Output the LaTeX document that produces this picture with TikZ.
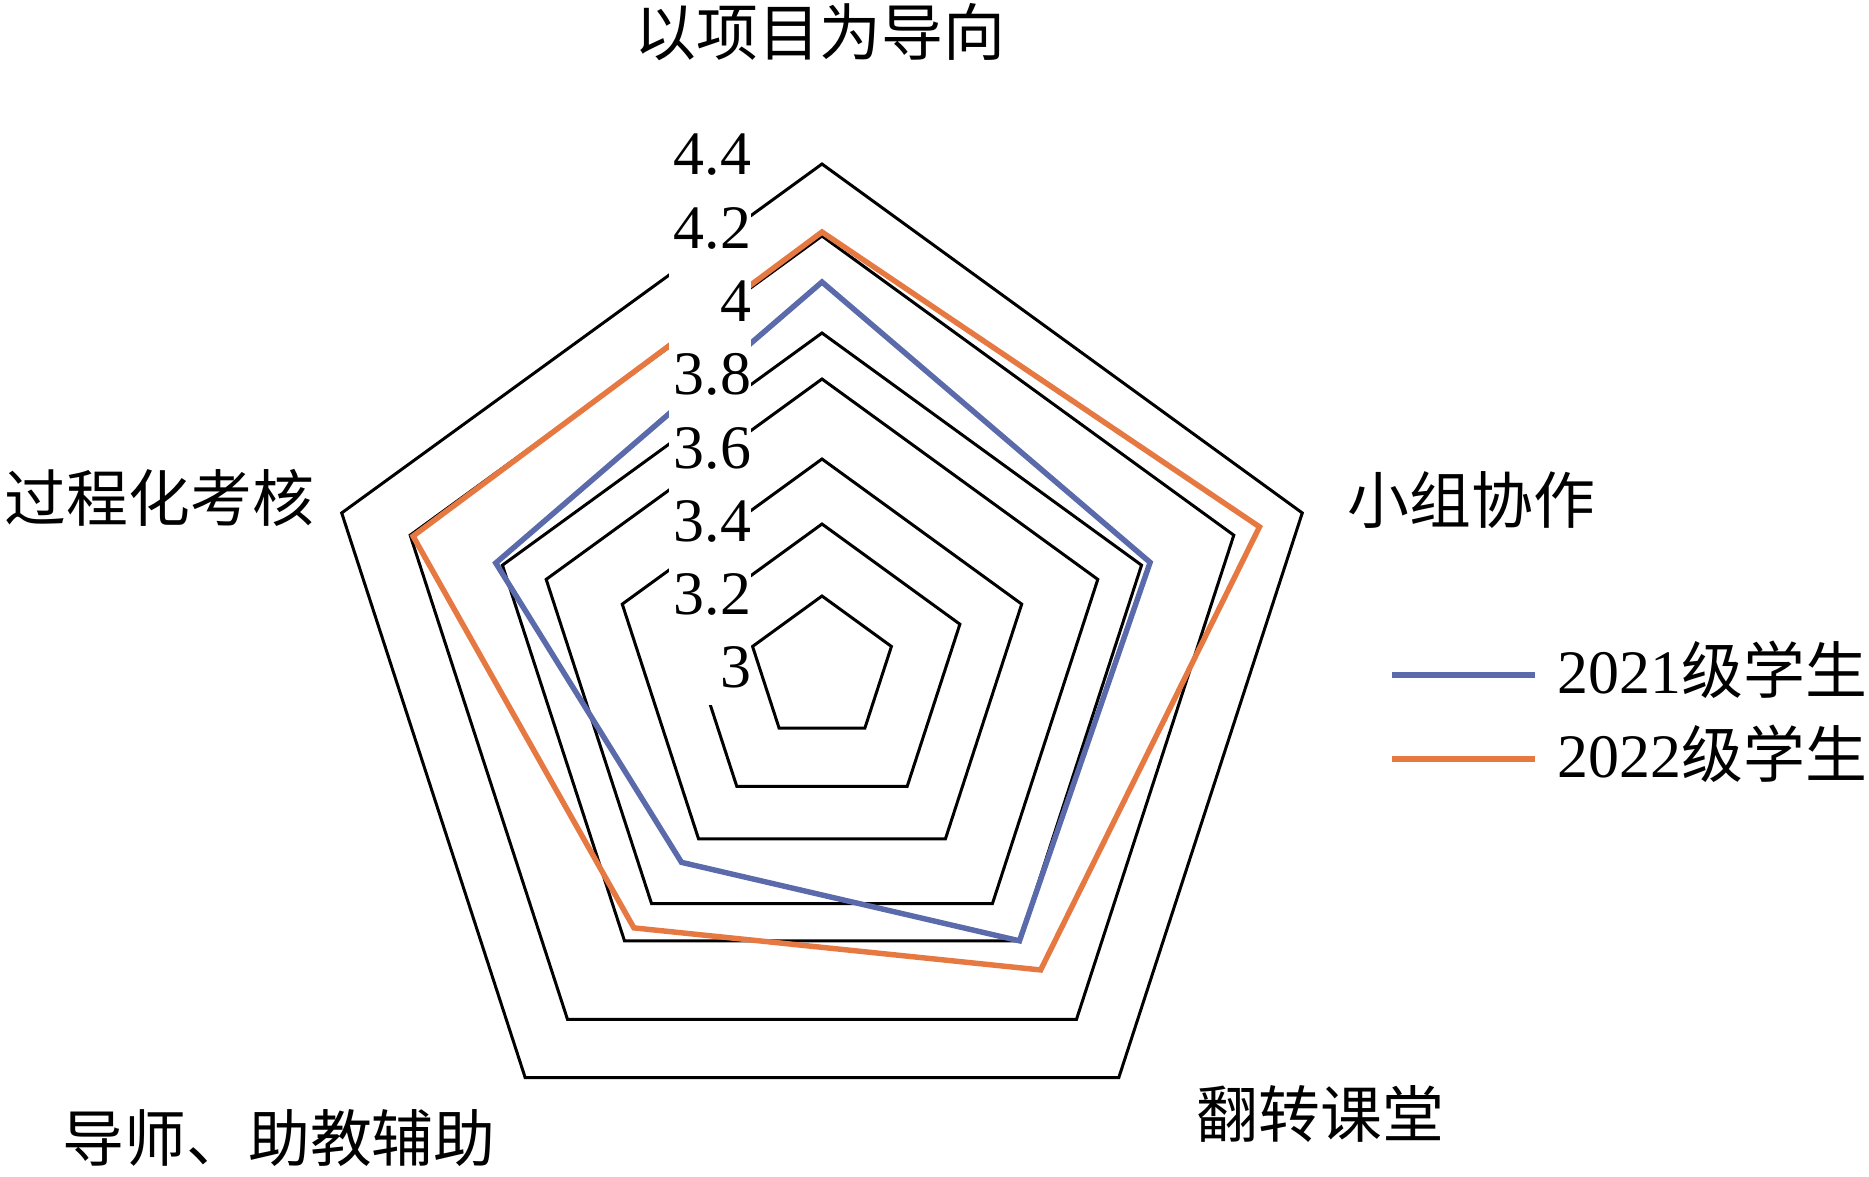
\documentclass[tikz,border=0pt]{standalone}
\usepackage{fontspec}
\setmainfont{Liberation Serif}
\newfontfamily\cjk{Noto Sans CJK SC}
\definecolor{blue21}{RGB}{90,106,170}
\definecolor{orange22}{RGB}{230,121,66}
\tikzset{
  ring/.style={draw=black, line width=0.85pt},
  yr21/.style={draw=blue21, line width=1.55pt},
  yr22/.style={draw=orange22, line width=1.55pt},
  vallabel/.style={fill=white, anchor=east, text width=0.82cm, align=right, minimum height=0.75cm, inner sep=0pt},
  axislabel/.style={anchor=west, inner sep=0pt, font=\cjk\fontsize{17.6}{20}\selectfont},
}
\begin{document}
\begin{tikzpicture}[every node/.append style={font=\fontsize{17.6}{20}\selectfont}]
\useasboundingbox (-8.22,-5.08) rectangle (10.47,6.69);
% grid pentagons
\draw[ring] (90:0.73) -- (18:0.73) -- (-54:0.73) -- (-126:0.73) -- (162:0.73) -- cycle;
\draw[ring] (90:1.45) -- (18:1.45) -- (-54:1.45) -- (-126:1.45) -- (162:1.45) -- cycle;
\draw[ring] (90:2.10) -- (18:2.10) -- (-54:2.10) -- (-126:2.10) -- (162:2.10) -- cycle;
\draw[ring] (90:2.90) -- (18:2.90) -- (-54:2.90) -- (-126:2.90) -- (162:2.90) -- cycle;
\draw[ring] (90:3.36) -- (18:3.36) -- (-54:3.36) -- (-126:3.36) -- (162:3.36) -- cycle;
\draw[ring] (90:4.33) -- (18:4.33) -- (-54:4.33) -- (-126:4.33) -- (162:4.33) -- cycle;
\draw[ring] (90:5.05) -- (18:5.05) -- (-54:5.05) -- (-126:5.05) -- (162:5.05) -- cycle;

% data
\draw[yr21] (90:3.87) -- (18:3.45) -- (-54:3.36) -- (-126:2.39) -- (162:3.43) -- cycle;
\draw[yr22] (90:4.37) -- (18:4.60) -- (-54:3.72) -- (-126:3.20) -- (162:4.30) -- cycle;

% value labels
\node[vallabel] (v30) at (-0.70,0.02) {3};
\node[vallabel] (v32) at (-0.70,0.75) {3.2};
\node[vallabel] (v34) at (-0.70,1.48) {3.4};
\node[vallabel] (v36) at (-0.70,2.21) {3.6};
\node[vallabel] (v38) at (-0.70,2.95) {3.8};
\node[vallabel] (v40) at (-0.70,3.68) {4};
\node[vallabel] (v42) at (-0.70,4.41) {4.2};
\node[vallabel] (v44) at (-0.70,5.14) {4.4};

% axis names
\node[font=\cjk\fontsize{17.6}{20}\selectfont, inner sep=0pt] (project) at (-0.02,6.37) {以项目为导向};
\node[axislabel] (group) at (5.25,1.69) {小组协作};
\node[axislabel] (flip) at (3.74,-4.45) {翻转课堂};
\node[axislabel] (tutor) at (-7.60,-4.69) {导师、助教辅助};
\node[axislabel] (process) at (-8.18,1.71) {过程化考核};

% legend
\coordinate (l21a) at (5.70,-0.06); \coordinate (l21b) at (7.13,-0.06);
\coordinate (l22a) at (5.70,-0.90); \coordinate (l22b) at (7.13,-0.90);
\draw[yr21] (l21a) -- (l21b);
\draw[yr22] (l22a) -- (l22b);
\node[anchor=west, inner sep=0pt] (t21) at (7.35,-0.01) {2021{\cjk 级学生}};
\node[anchor=west, inner sep=0pt] (t22) at (7.35,-0.85) {2022{\cjk 级学生}};
\end{tikzpicture}
\end{document}
